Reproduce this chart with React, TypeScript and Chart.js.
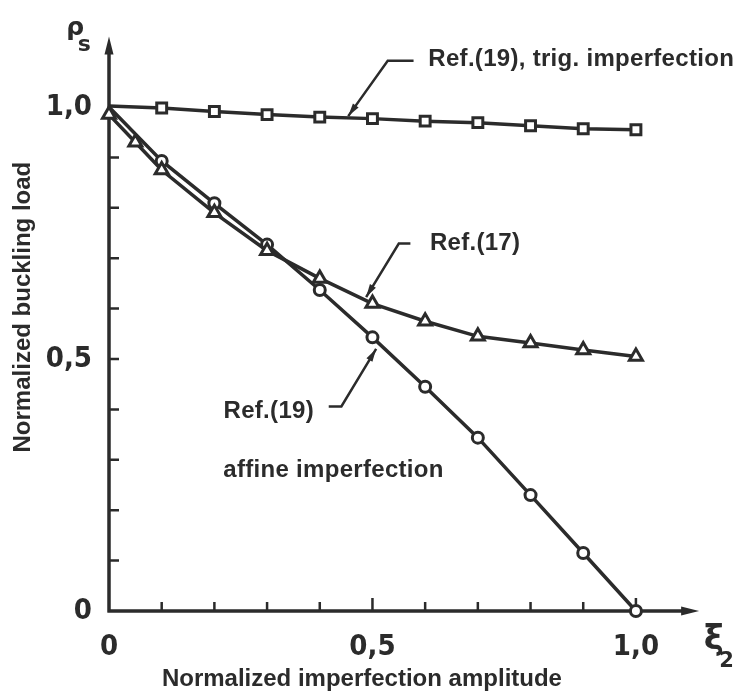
import React, { useEffect, useRef } from 'react';
import { Chart, registerables } from 'chart.js';

Chart.register(...registerables);

// ---- data ----
const trigX = [0, 0.1, 0.2, 0.3, 0.4, 0.5, 0.6, 0.7, 0.8, 0.9, 1.0];
const trigY = [1.002, 0.998, 0.991, 0.985, 0.98, 0.977, 0.972, 0.969, 0.963, 0.957, 0.955];

const ref17X = [0, 0.05, 0.1, 0.2, 0.3, 0.4, 0.5, 0.6, 0.7, 0.8, 0.9, 1.0];
const ref17Y = [0.985, 0.93, 0.875, 0.79, 0.715, 0.66, 0.61, 0.575, 0.545, 0.532, 0.518, 0.505];

const affineX = [0, 0.1, 0.2, 0.3, 0.4, 0.5, 0.6, 0.7, 0.8, 0.9, 1.0];
const affineY = [1.0, 0.893, 0.809, 0.727, 0.637, 0.543, 0.445, 0.344, 0.23, 0.115, 0.0];

const xTickValues = [0, 0.5, 1.0];
const xTickLabels = ['0', '0,5', '1,0'];
const yTickValues = [0, 0.5, 1.0];
const yTickLabels = ['0', '0,5', '1,0'];
const xMinorTicks = [0.1, 0.2, 0.3, 0.4, 0.5, 0.6, 0.7, 0.8, 0.9, 1.0];
const yMinorTicks = [0.1, 0.2, 0.3, 0.4, 0.5, 0.6, 0.7, 0.8, 0.9];

const xTitle = 'Normalized imperfection amplitude';
const yTitle = 'Normalized buckling load';
const labelTrig = 'Ref.(19), trig. imperfection';
const label17 = 'Ref.(17)';
const label19 = 'Ref.(19)';
const labelAffine = 'affine imperfection';

const INK = '#2b2b2b';
const TEXT_FONT = 'bold 24px "Liberation Sans", Arial, Helvetica, sans-serif';
const NUM_FONT = '"Liberation Sans Narrow", "DejaVu Sans Condensed", "Liberation Sans", sans-serif';

const toPts = (xs: number[], ys: number[]) => xs.map((v, i) => ({ x: v, y: ys[i] }));

function arrowHead(ctx: CanvasRenderingContext2D, tx: number, ty: number, fx: number, fy: number, len: number, hw: number) {
  const dx = tx - fx, dy = ty - fy;
  const d = Math.hypot(dx, dy) || 1;
  const ux = dx / d, uy = dy / d;
  const bx = tx - ux * len, by = ty - uy * len;
  ctx.beginPath();
  ctx.moveTo(tx, ty);
  ctx.lineTo(bx - uy * hw, by + ux * hw);
  ctx.lineTo(bx + uy * hw, by - ux * hw);
  ctx.closePath();
  ctx.fill();
}

const drawPlugin = {
  id: 'paperDecor',
  beforeDatasetsDraw(chart: any) {
    const { ctx, scales } = chart;
    const xs = scales.x, ys = scales.y;
    const px = (v: number) => xs.getPixelForValue(v);
    const py = (v: number) => ys.getPixelForValue(v);
    ctx.save();
    ctx.strokeStyle = INK;
    ctx.fillStyle = INK;
    ctx.lineWidth = 3.5;
    const x0 = px(0), y0 = py(0);
    const yTop = py(1.14), xEnd = px(1.12);
    ctx.beginPath();
    ctx.moveTo(x0, y0 + 1.5);
    ctx.lineTo(x0, yTop + 10);
    ctx.moveTo(x0 - 1.5, y0);
    ctx.lineTo(xEnd - 10, y0);
    ctx.stroke();
    arrowHead(ctx, x0, yTop, x0, yTop + 10, 18, 4.5);
    arrowHead(ctx, xEnd, y0, xEnd - 10, y0, 18, 4.5);
    ctx.lineWidth = 2.5;
    ctx.beginPath();
    xMinorTicks.forEach((v) => {
      const major = xTickValues.includes(v);
      ctx.moveTo(px(v), y0);
      ctx.lineTo(px(v), y0 - (major ? 13 : 9));
    });
    yMinorTicks.forEach((v) => {
      ctx.moveTo(x0, py(v));
      ctx.lineTo(x0 + 10, py(v));
    });
    ctx.stroke();
    ctx.restore();
  },
  afterDatasetsDraw(chart: any) {
    const { ctx, scales } = chart;
    const xs = scales.x, ys = scales.y;
    const px = (v: number) => xs.getPixelForValue(v);
    const py = (v: number) => ys.getPixelForValue(v);
    ctx.save();
    ctx.strokeStyle = INK;
    ctx.fillStyle = INK;
    ctx.lineWidth = 2.5;
    const leader = (pts: number[][]) => {
      ctx.beginPath();
      pts.forEach(([a, b], i) => (i ? ctx.lineTo(px(a), py(b)) : ctx.moveTo(px(a), py(b))));
      ctx.stroke();
      const n = pts.length;
      arrowHead(ctx, px(pts[n - 1][0]), py(pts[n - 1][1]), px(pts[n - 2][0]), py(pts[n - 2][1]), 13, 3.5);
    };
    leader([[0.578, 1.092], [0.529, 1.092], [0.454, 0.982]]);
    leader([[0.572, 0.729], [0.55, 0.729], [0.488, 0.623]]);
    leader([[0.417, 0.406], [0.441, 0.406], [0.507, 0.52]]);

    ctx.font = TEXT_FONT;
    (ctx as any).letterSpacing = '0.3px';
    ctx.textBaseline = 'middle';
    ctx.textAlign = 'left';
    ctx.fillText(labelTrig, px(0.606), py(1.094));
    ctx.fillText(label17, px(0.609), py(0.729));
    ctx.textAlign = 'right';
    ctx.fillText(label19, px(0.389), py(0.397));
    ctx.textAlign = 'left';
    ctx.fillText(labelAffine, px(0.217), py(0.279));

    (ctx as any).letterSpacing = '0px';
    ctx.textAlign = 'center';
    ctx.fillText(xTitle, px(0.48), py(-0.135));
    ctx.save();
    ctx.translate(px(-0.163), py(0.603));
    ctx.rotate(-Math.PI / 2);
    ctx.fillText(yTitle, 0, 0);
    ctx.restore();

    ctx.font = 'bold 25px "DejaVu Sans", sans-serif';
    ctx.fillText('ρ', px(-0.064), py(1.156));
    ctx.font = 'bold 22px "DejaVu Sans", sans-serif';
    ctx.fillText('s', px(-0.047), py(1.122));
    ctx.font = 'bold 34px "DejaVu Sans", sans-serif';
    ctx.fillText('ξ', px(1.148), py(-0.057));
    ctx.font = 'bold 21px "DejaVu Sans", sans-serif';
    ctx.fillText('2', px(1.172), py(-0.1));
    ctx.restore();
  },
};

export default function App() {
  const ref = useRef<HTMLCanvasElement | null>(null);
  useEffect(() => {
    if (!ref.current) return;
    const common = {
      borderColor: INK,
      pointBorderColor: INK,
      pointBackgroundColor: '#ffffff',
      borderWidth: 3.5,
      pointBorderWidth: 3,
      clip: false as any,
      tension: 0,
      showLine: true,
    };
    const chart = new Chart(ref.current, {
      type: 'scatter',
      data: {
        datasets: [
          {
            ...common,
            label: 'Ref.(17)',
            data: toPts(ref17X, ref17Y),
            pointStyle: 'triangle',
            pointRadius: 7.5,
          },
          {
            ...common,
            label: 'Ref.(19), affine imperfection',
            data: toPts(affineX, affineY),
            pointStyle: 'circle',
            pointRadius: affineX.map((_, i) => (i === 0 ? 0 : 5.5)),
          },
          {
            ...common,
            label: 'Ref.(19), trig. imperfection',
            data: toPts(trigX, trigY),
            pointStyle: 'rect',
            pointRadius: trigX.map((_, i) => (i === 0 ? 0 : 7)),
          },
        ],
      },
      options: {
        animation: false,
        responsive: false,
        layout: { padding: { left: 0, right: 1, top: 17, bottom: 0 } },
        plugins: { legend: { display: false }, tooltip: { enabled: false } },
        scales: {
          x: {
            type: 'linear',
            min: 0,
            max: 1.1757,
            grid: { display: false },
            border: { display: false },
            afterFit: (s: any) => {
              s.height = 85;
            },
            afterBuildTicks: (s: any) => {
              s.ticks = xTickValues.map((v) => ({ value: v }));
            },
            ticks: {
              color: INK,
              padding: 11,
              maxRotation: 0,
              autoSkip: false,
              font: { family: NUM_FONT, size: 29, weight: 'bold' },
              callback: (_v: any, i: number) => xTickLabels[i],
            },
          },
          y: {
            type: 'linear',
            min: 0,
            max: 1.16,
            grid: { display: false },
            border: { display: false },
            afterFit: (s: any) => {
              s.width = 109;
            },
            afterBuildTicks: (s: any) => {
              s.ticks = yTickValues.map((v) => ({ value: v }));
            },
            ticks: {
              color: INK,
              padding: 9,
              autoSkip: false,
              font: { family: NUM_FONT, size: 29, weight: 'bold' },
              callback: (_v: any, i: number) => yTickLabels[i],
            },
          },
        },
      },
      plugins: [drawPlugin],
    });
    return () => chart.destroy();
  }, []);
  return (
    <div style={{ position: 'absolute', left: 0, top: 0, width: 739, height: 696, background: '#fff' }}>
      <canvas ref={ref} width={739} height={696} style={{ display: 'block' }} />
    </div>
  );
}
